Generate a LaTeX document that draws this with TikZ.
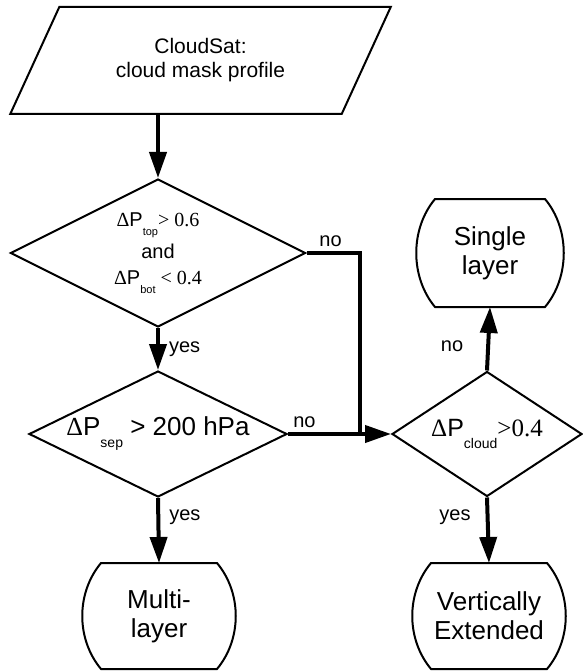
\documentclass[tikz,border=0pt]{standalone}
\usepackage{fontspec}
\setmainfont{Liberation Sans}
\newfontfamily\tms{Liberation Serif}
\usepackage{tikz}
\usetikzlibrary{shapes.geometric,arrows.meta}
\newcommand{\dP}[3]{{\tms Δ}P\raisebox{-#1pt}{\fontsize{#2}{#2}\selectfont #3}}

\begin{document}
\begin{tikzpicture}[x=1pt,y=-1pt,>={Triangle[length=26pt,width=17pt]},
  conn/.style={black,line width=4pt},
  cond/.style={draw,shape=diamond,line width=2pt,inner sep=0pt,aspect=2,align=center},
  term/.style={inner sep=0pt,outer sep=0pt,align=center,font=\fontsize{26}{29}\selectfont},
  lbl/.style={inner sep=0pt,font=\fontsize{20}{20}\selectfont}]
\useasboundingbox (0,0) rectangle (582,671);

\node[draw,shape=trapezium,trapezium left angle=56,trapezium right angle=124,trapezium stretches=true,
  line width=2pt,minimum width=381pt,minimum height=107pt,inner sep=0pt,align=center,
  font=\fontsize{21}{24}\selectfont] (src) at (200.5,60.5) {CloudSat:\\cloud mask profile};
\node[cond,minimum width=295pt,minimum height=148pt,font=\fontsize{20}{26}\selectfont] (topcond) at (158,253)
  {\dP{9}{11}{top}{\tms> 0.6}\\[6pt] and\\ \dP{9}{11}{bot}{\tms\ < 0.4}};
\node[cond,minimum width=258pt,minimum height=126pt,font=\fontsize{26}{26}\selectfont] (sep) at (158,434)
  {\dP{12}{14}{sep} > 200 hPa};
\node[cond,minimum width=190pt,minimum height=125pt,font=\fontsize{25}{25}\selectfont] (cloud) at (487,434)
  {\dP{12}{14}{cloud}{\tms>0.4}};
\node[term,minimum width=146pt,minimum height=108pt] (single) at (490,253) {Single\\layer};
\node[term,minimum width=152pt,minimum height=106pt] (multi) at (159,616) {Multi-\\layer};
\node[term,minimum width=152pt,minimum height=106pt] (vert) at (489,616) {Vertically\\Extended};
\coordinate (join) at (360,434);

\foreach \n in {single,multi,vert}
  \draw[line width=2pt] ([xshift=18pt]\n.north west) -- ([xshift=-18pt]\n.north east)
    .. controls ([xshift=7pt,yshift=-30pt]\n.north east) and ([xshift=7pt,yshift=30pt]\n.south east) .. ([xshift=-18pt]\n.south east)
    -- ([xshift=18pt]\n.south west)
    .. controls ([xshift=-7pt,yshift=30pt]\n.south west) and ([xshift=-7pt,yshift=-30pt]\n.north west) .. ([xshift=18pt]\n.north west) -- cycle;

\draw[conn,->] (src.south -| topcond.north)--(topcond.north);
\draw[conn,->] (topcond.south)--node[lbl,right=9pt]{yes}(sep.north);
\draw[conn] (topcond.east)--node[lbl,above=4pt,pos=0.45]{no}(topcond.east -| join)--(join);
\draw[conn,->] (sep.east)--node[lbl,above=4pt,pos=0.16]{no}(cloud.west);
\draw[conn,->] (sep.south)--node[lbl,right=9pt,pos=0.3]{yes}(multi.north);
\draw[conn,->] (cloud.north)--node[lbl,left=23pt,pos=0.38]{no}(single.south);
\draw[conn,->] (cloud.south)--node[lbl,left=15pt,pos=0.3]{yes}(vert.north);
\end{tikzpicture}
\end{document}
